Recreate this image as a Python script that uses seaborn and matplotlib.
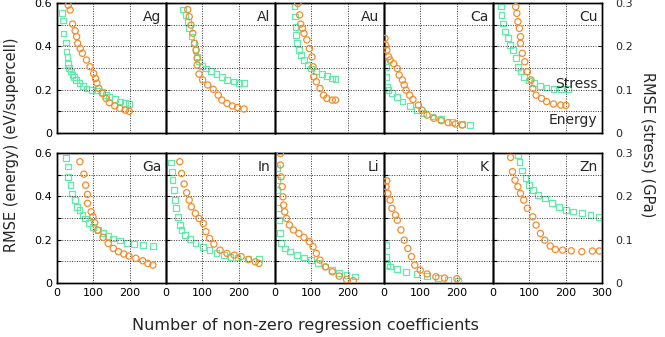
import seaborn as sns
import matplotlib.pyplot as plt

# number of non-zero coefficients (x) and RMSE values
# energy in eV/supercell (orange circles), stress in GPa (green squares)
ag_ex = [31, 36, 43, 50, 54, 57, 64, 70, 81, 91, 101, 106, 110, 115, 125, 135, 144, 159, 173, 188, 199]
ag_e = [0.59, 0.568, 0.503, 0.472, 0.445, 0.414, 0.39, 0.368, 0.337, 0.306, 0.275, 0.252, 0.23, 0.206, 0.183, 0.16, 0.14, 0.125, 0.114, 0.106, 0.10]
ag_sx = [14, 16, 18, 25, 26, 29, 31, 33, 38, 43, 47, 52, 62, 72, 81, 96, 110, 125, 135, 144, 159, 173, 188, 199]
ag_s = [0.277, 0.26, 0.23, 0.209, 0.188, 0.175, 0.16, 0.15, 0.142, 0.134, 0.129, 0.123, 0.115, 0.109, 0.103, 0.099, 0.098, 0.095, 0.088, 0.083, 0.078, 0.073, 0.069, 0.067]

al_ex = [60, 64, 69, 74, 79, 83, 86, 86, 91, 101, 115, 130, 144, 154, 168, 183, 197, 215]
al_e = [0.57, 0.537, 0.498, 0.46, 0.414, 0.383, 0.345, 0.314, 0.272, 0.245, 0.222, 0.202, 0.175, 0.152, 0.137, 0.125, 0.118, 0.111]
al_sx = [47, 54, 60, 64, 70, 76, 81, 86, 91, 99, 110, 125, 139, 154, 168, 188, 202, 215]
al_s = [0.285, 0.273, 0.257, 0.242, 0.223, 0.207, 0.192, 0.176, 0.165, 0.155, 0.149, 0.144, 0.136, 0.129, 0.123, 0.119, 0.116, 0.115]

au_ex = [63, 68, 71, 76, 80, 88, 95, 102, 105, 107, 114, 124, 134, 143, 158, 167]
au_e = [0.598, 0.545, 0.503, 0.483, 0.46, 0.43, 0.39, 0.352, 0.306, 0.26, 0.237, 0.206, 0.175, 0.16, 0.152, 0.152]
au_sx = [54, 55, 57, 59, 61, 66, 71, 80, 90, 100, 114, 129, 143, 158, 167]
au_s = [0.293, 0.269, 0.245, 0.226, 0.207, 0.192, 0.18, 0.169, 0.157, 0.149, 0.142, 0.136, 0.132, 0.126, 0.125]

ca_ex = [3, 5, 8, 13, 17, 27, 37, 42, 51, 56, 61, 71, 80, 95, 105, 119, 138, 158, 177, 197, 216]
ca_e = [0.437, 0.406, 0.383, 0.352, 0.337, 0.32, 0.298, 0.268, 0.245, 0.222, 0.198, 0.175, 0.155, 0.129, 0.106, 0.083, 0.068, 0.057, 0.048, 0.042, 0.037]
ca_sx = [3, 5, 6, 8, 13, 22, 37, 51, 71, 90, 109, 134, 158, 187, 216, 238]
ca_s = [0.165, 0.153, 0.13, 0.107, 0.099, 0.092, 0.083, 0.073, 0.063, 0.053, 0.046, 0.038, 0.032, 0.026, 0.021, 0.018]

cu_ex = [63, 66, 69, 73, 76, 76, 81, 88, 95, 105, 110, 119, 134, 148, 167, 187, 201]
cu_e = [0.583, 0.552, 0.514, 0.483, 0.445, 0.414, 0.368, 0.329, 0.283, 0.245, 0.206, 0.175, 0.16, 0.145, 0.134, 0.129, 0.128]
cu_sx = [22, 24, 28, 34, 42, 48, 56, 63, 69, 76, 85, 100, 114, 129, 148, 167, 187, 206]
cu_s = [0.292, 0.273, 0.253, 0.234, 0.219, 0.203, 0.192, 0.173, 0.153, 0.142, 0.13, 0.121, 0.115, 0.109, 0.105, 0.102, 0.101, 0.101]

ga_ex = [63, 74, 79, 84, 84, 94, 99, 104, 112, 127, 141, 155, 169, 184, 198, 217, 236, 250, 264]
ga_e = [0.56, 0.503, 0.452, 0.409, 0.368, 0.329, 0.306, 0.278, 0.245, 0.211, 0.183, 0.16, 0.145, 0.134, 0.125, 0.114, 0.103, 0.091, 0.083]
ga_sx = [25, 30, 31, 37, 42, 49, 56, 62, 70, 77, 89, 99, 112, 127, 141, 155, 174, 193, 212, 236, 264]
ga_s = [0.288, 0.269, 0.244, 0.226, 0.207, 0.192, 0.176, 0.169, 0.157, 0.149, 0.138, 0.129, 0.123, 0.116, 0.109, 0.103, 0.098, 0.093, 0.09, 0.088, 0.086]

in_ex = [38, 43, 50, 57, 64, 70, 81, 91, 103, 110, 120, 132, 149, 168, 188, 207, 227, 246, 256]
in_e = [0.56, 0.506, 0.457, 0.417, 0.383, 0.352, 0.322, 0.298, 0.275, 0.237, 0.206, 0.18, 0.152, 0.137, 0.129, 0.122, 0.109, 0.098, 0.091]
in_sx = [14, 16, 18, 23, 25, 28, 33, 38, 43, 52, 67, 81, 101, 120, 139, 159, 178, 197, 227, 256]
in_s = [0.278, 0.257, 0.238, 0.215, 0.192, 0.173, 0.153, 0.134, 0.123, 0.111, 0.101, 0.092, 0.084, 0.076, 0.07, 0.065, 0.061, 0.059, 0.057, 0.057]

li_ex = [15, 15, 17, 20, 22, 24, 27, 32, 40, 51, 66, 80, 95, 105, 114, 124, 139, 158, 177, 197, 216]
li_e = [0.598, 0.545, 0.49, 0.445, 0.398, 0.36, 0.329, 0.298, 0.268, 0.245, 0.229, 0.211, 0.191, 0.168, 0.137, 0.106, 0.075, 0.052, 0.032, 0.017, 0.011]
li_sx = [6, 6, 7, 9, 11, 13, 17, 27, 42, 61, 80, 100, 119, 139, 158, 177, 197, 221]
li_s = [0.265, 0.238, 0.215, 0.173, 0.145, 0.115, 0.092, 0.08, 0.073, 0.065, 0.059, 0.053, 0.047, 0.038, 0.03, 0.024, 0.019, 0.015]

k_ex = [8, 6, 11, 17, 22, 32, 37, 47, 56, 66, 76, 85, 100, 119, 143, 167, 201]
k_e = [0.472, 0.445, 0.414, 0.383, 0.345, 0.314, 0.29, 0.245, 0.198, 0.16, 0.122, 0.083, 0.06, 0.042, 0.029, 0.023, 0.02]
k_sx = [5, 6, 8, 17, 37, 61, 90, 119, 148, 177, 204]
k_s = [0.088, 0.061, 0.042, 0.038, 0.032, 0.026, 0.021, 0.016, 0.011, 0.007, 0.005]

zn_ex = [49, 54, 61, 69, 76, 85, 95, 110, 119, 131, 143, 158, 172, 192, 216, 245, 274, 293]
zn_e = [0.58, 0.514, 0.475, 0.445, 0.414, 0.383, 0.345, 0.306, 0.268, 0.229, 0.198, 0.171, 0.155, 0.152, 0.149, 0.145, 0.148, 0.148]
zn_sx = [69, 73, 81, 90, 100, 111, 124, 143, 163, 182, 201, 221, 245, 269, 293]
zn_s = [0.295, 0.28, 0.26, 0.242, 0.226, 0.215, 0.203, 0.195, 0.185, 0.176, 0.169, 0.165, 0.161, 0.157, 0.153]

panels = [
    ("Ag", ag_ex, ag_e, ag_sx, ag_s),
    ("Al", al_ex, al_e, al_sx, al_s),
    ("Au", au_ex, au_e, au_sx, au_s),
    ("Ca", ca_ex, ca_e, ca_sx, ca_s),
    ("Cu", cu_ex, cu_e, cu_sx, cu_s),
    ("Ga", ga_ex, ga_e, ga_sx, ga_s),
    ("In", in_ex, in_e, in_sx, in_s),
    ("Li", li_ex, li_e, li_sx, li_s),
    ("K", k_ex, k_e, k_sx, k_s),
    ("Zn", zn_ex, zn_e, zn_sx, zn_s),
]

orange = "#F48C2C"
green = "#62EAAA"

sns.set_style("white")
plt.rcParams["font.family"] = ["DejaVu Sans"]

fig, axes = plt.subplots(2, 5, figsize=(6.65, 3.37), dpi=100)
fig.subplots_adjust(left=0.0857, right=0.905, top=0.991, bottom=0.160, wspace=0, hspace=0.154)

for i, (name, ex, e, sx, s) in enumerate(panels):
    row, col = divmod(i, 5)
    ax = axes[row, col]
    ax2 = ax.twinx()

    sns.scatterplot(x=sx, y=s, ax=ax2, marker="s", s=17, fc="none", ec=green, linewidth=0.9, zorder=3)
    sns.scatterplot(x=ex, y=e, ax=ax, marker="o", s=20, fc="none", ec=orange, linewidth=0.9, zorder=4)
    ax.set_zorder(ax2.get_zorder() + 1)
    ax.patch.set_visible(False)

    ax.set_xlim(0, 300)
    ax.set_ylim(0, 0.6)
    ax2.set_ylim(0, 0.3)
    ax.set_xticks([0, 100, 200, 300])
    ax.set_yticks([0, 0.1, 0.2, 0.3, 0.4, 0.5, 0.6])
    ax.grid(True, color="#333333", linestyle=(0, (1, 1.5)), linewidth=0.7)
    ax.tick_params(direction="in", length=3, width=0.8, labelsize=8, colors="black")

    if col == 0:
        ax.set_yticklabels(["0", "", "0.2", "", "0.4", "", "0.6"])
    else:
        ax.set_yticklabels([])
    if row == 1:
        if col == 4:
            ax.set_xticklabels(["0", "100", "200", "300"])
        else:
            ax.set_xticklabels(["0", "100", "200", ""])
    else:
        ax.set_xticklabels([])

    if col == 4:
        ax2.set_yticks([0, 0.1, 0.2, 0.3])
        ax2.set_yticklabels(["0", "0.1", "0.2", "0.3"])
        ax2.tick_params(direction="in", length=3, width=0.8, labelsize=8, pad=10)
    else:
        ax2.set_yticks([])

    for a in (ax, ax2):
        for sp in a.spines.values():
            sp.set_color("black")
            sp.set_linewidth(1.0)

    ax.text(0.96, 0.95, name, transform=ax.transAxes, ha="right", va="top", fontsize=10)
    ax.set_xlabel("")
    ax.set_ylabel("")
    ax2.set_ylabel("")

axes[0, 4].text(0.96, 0.38, "Stress", transform=axes[0, 4].transAxes, ha="right", va="center", fontsize=10)
axes[0, 4].text(0.96, 0.1, "Energy", transform=axes[0, 4].transAxes, ha="right", va="center", fontsize=10)

fig.text(0.018, 0.57, "RMSE (energy) (eV/supercell)", rotation=90, ha="center", va="center", fontsize=10.5)
fig.text(0.975, 0.57, "RMSE (stress) (GPa)", rotation=-90, ha="center", va="center", fontsize=10.5)
fig.text(0.46, 0.035, "Number of non-zero regression coefficients", ha="center", va="center", fontsize=11.5)

fig.savefig("out.png", dpi=100)
